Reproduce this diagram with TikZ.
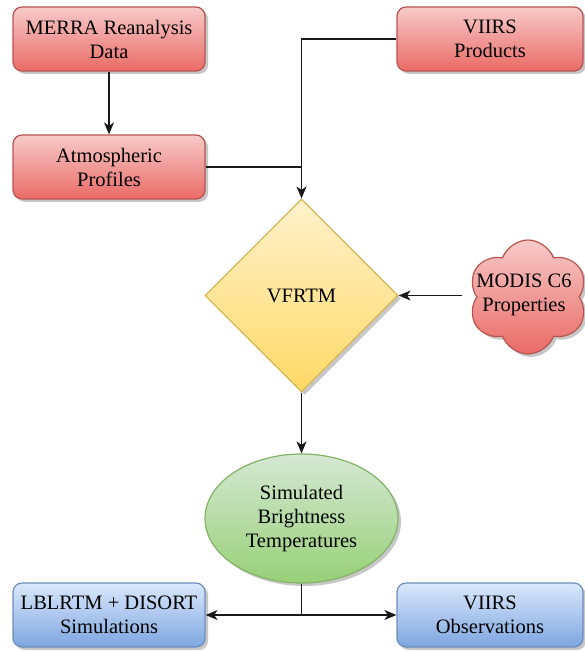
\documentclass[tikz,border=0pt]{standalone}
\usepackage{fontspec}
\setmainfont{Liberation Serif}
\usetikzlibrary{shapes.geometric,shapes.symbols,shadows,arrows.meta}
\definecolor{redtop}{HTML}{F7CAC9}
\definecolor{redbot}{HTML}{EA6B66}
\definecolor{redline}{HTML}{B85450}
\definecolor{yeltop}{HTML}{FFF2CC}
\definecolor{yelbot}{HTML}{FFD966}
\definecolor{yelline}{HTML}{D6B656}
\definecolor{grntop}{HTML}{D5E8D4}
\definecolor{grnbot}{HTML}{97D077}
\definecolor{grnline}{HTML}{82B366}
\definecolor{blutop}{HTML}{DAE8FC}
\definecolor{blubot}{HTML}{7EA6E0}
\definecolor{bluline}{HTML}{6C8EBF}
\tikzset{
  base/.style={font=\fontsize{20.5}{24}\selectfont, align=center, line width=1.2pt,
    drop shadow={shadow xshift=3pt, shadow yshift=-3pt, fill=black, opacity=0.22}},
  redbox/.style={base, rectangle, rounded corners=9pt, minimum height=64pt, inner sep=0pt,
    draw=redline, top color=redtop, bottom color=redbot},
  bluebox/.style={base, rectangle, rounded corners=9pt, minimum height=64pt, inner sep=0pt,
    draw=bluline, top color=blutop, bottom color=blubot},
  decide/.style={base, diamond, aspect=1, minimum width=193pt, minimum height=193pt, inner sep=0pt,
    draw=yelline, top color=yeltop, bottom color=yelbot},
  oval/.style={base, ellipse, minimum width=193pt, minimum height=129pt, inner sep=0pt,
    draw=grnline, top color=grntop, bottom color=grnbot},
  puffy/.style={base, cloud, cloud puffs=6, cloud puff arc=140, aspect=1.05, minimum width=120pt, minimum height=114pt, inner sep=0pt,
    draw=redline, top color=redtop, bottom color=redbot},
  txt/.style={font=\fontsize{20.5}{24}\selectfont, align=center, inner sep=0pt},
  conn/.style={line width=1.5pt, draw=black!90},
  arr/.style={conn, -{Stealth[length=12pt,width=10pt,inset=3.5pt]}}
}
\begin{document}
\begin{tikzpicture}[x=1pt,y=-1pt]
\useasboundingbox (0,0) rectangle (584,652);
\node[redbox, minimum width=192pt] (merra) at (109,39) {MERRA Reanalysis\\Data};
\node[redbox, minimum width=186pt] (viirsp) at (490,39) {VIIRS\\Products};
\node[redbox, minimum width=192pt] (atm) at (109,167) {Atmospheric\\Profiles};
\node[decide] (vfrtm) at (301.5,295.5) {VFRTM};
\node[puffy] (cloud) at (528,297) {};
\node[txt] (cloudtxt) at (524,295) {MODIS C6\\Properties};
\node[oval] (sbt) at (301.5,518.5) {Simulated\\Brightness\\Temperatures};
\node[bluebox, minimum width=192pt] (lbl) at (109,615) {LBLRTM + DISORT\\Simulations};
\node[bluebox, minimum width=186pt] (vobs) at (490,615) {VIIRS\\Observations};
\coordinate (join) at (atm.east -| vfrtm.north);
\coordinate (cstart) at (462,295.5);
\draw[arr] (merra) -- (atm);
\draw[arr] (viirsp.west) -| (vfrtm.north);
\draw[conn] (atm.east) -- (join);
\draw[arr] (cstart) -- (vfrtm.east);
\draw[arr] (vfrtm.south) -- (sbt.north);
\draw[arr] (sbt.south) |- (lbl.east);
\draw[arr] (sbt.south) |- (vobs.west);
\end{tikzpicture}
\end{document}
